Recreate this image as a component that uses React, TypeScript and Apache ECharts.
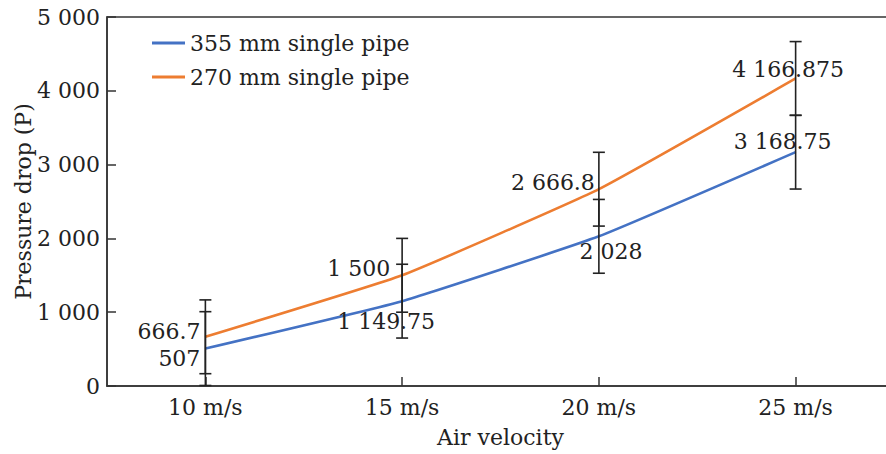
import React, { useEffect, useRef } from "react";
import * as echarts from "echarts";

const categories = ["10 m/s", "15 m/s", "20 m/s", "25 m/s"];
const pipe355 = [507, 1149.75, 2028, 3168.75];
const pipe270 = [666.7, 1500, 2666.8, 4166.875];
const errors355 = [500, 500, 500, 500];
const errors270 = [500, 500, 500, 500];
const seriesNames = ["355 mm single pipe", "270 mm single pipe"];

// label placement (alignment and pixel offsets from each point)
const labels355 = [
  { align: "right", offset: [-5, 9.5] },
  { align: "center", offset: [-16, 20.6] },
  { align: "center", offset: [12, 15.4] },
  { align: "center", offset: [-13, -10.5] },
];
const labels270 = [
  { align: "right", offset: [-5, -5] },
  { align: "right", offset: [-12, -7] },
  { align: "right", offset: [-4, -7] },
  { align: "center", offset: [-7.5, -8.5] },
];

const FONT = "DejaVu Serif";
const FS = 22;
const TXT = "#222";
const BLUE = "#4472C4";
const ORANGE = "#ED7D31";

function fmt(v: number): string {
  const s = String(v);
  const parts = s.split(".");
  const g = parts[0].replace(/\B(?=(\d{3})+(?!\d))/g, " ");
  return parts[1] ? g + "." + parts[1] : g;
}

function lineData(values: number[], lab: any[]) {
  return values.map((v, i) => ({
    value: v,
    label: {
      show: true,
      position: "inside",
      align: lab[i].align,
      verticalAlign: "middle",
      offset: lab[i].offset,
      formatter: () => fmt(v),
      color: TXT,
      fontFamily: FONT,
      fontSize: FS,
    },
  }));
}

function errData(values: number[], errs: number[]) {
  return values.map((v, i) => [i, v - errs[i], v + errs[i]]);
}

const renderErr = (params: any, api: any) => {
  const x = api.value(0);
  const lo = api.coord([x, api.value(1)]);
  const hi = api.coord([x, api.value(2)]);
  const w = 6;
  const style = { stroke: "#222", lineWidth: 1.6 };
  return {
    type: "group",
    children: [
      { type: "line", shape: { x1: lo[0], y1: lo[1], x2: hi[0], y2: hi[1] }, style },
      { type: "line", shape: { x1: lo[0] - w, y1: lo[1], x2: lo[0] + w, y2: lo[1] }, style },
      { type: "line", shape: { x1: hi[0] - w, y1: hi[1], x2: hi[0] + w, y2: hi[1] }, style },
    ],
  };
};

export default function App() {
  const ref = useRef<HTMLDivElement>(null);
  useEffect(() => {
    if (!ref.current) return;
    const chart = echarts.init(ref.current, null, { renderer: "svg" });
    const axisLine = { show: true, lineStyle: { color: "#333", width: 1.5 } };
    chart.setOption({
      animation: false,
      backgroundColor: "#fff",
      textStyle: { fontFamily: FONT, color: TXT },
      grid: {
        left: 107,
        top: 17,
        right: -8,
        bottom: 68,
        outerBoundsMode: "none",
        containLabel: false,
        show: true,
        borderColor: "#333",
        borderWidth: 1.5,
        backgroundColor: "transparent",
      },
      legend: {
        orient: "vertical",
        left: 147,
        top: 25,
        itemWidth: 33,
        itemHeight: 3,
        itemGap: 8,
        icon: "rect",
        data: seriesNames,
        textStyle: { fontFamily: FONT, fontSize: FS, color: TXT, lineHeight: 26, padding: [0, 0, 0, 0] },
      },
      xAxis: {
        type: "category",
        data: categories,
        boundaryGap: true,
        axisLine,
        axisTick: { show: true, alignWithLabel: true, inside: true, length: 9, lineStyle: { color: "#333", width: 1.5 } },
        axisLabel: { fontFamily: FONT, fontSize: FS, color: TXT, margin: 10 },
        name: "Air velocity",
        nameLocation: "middle",
        nameGap: 40,
        nameMoveOverlap: false,
        nameTextStyle: { fontFamily: FONT, fontSize: FS, color: TXT },
        splitLine: { show: false },
      },
      yAxis: {
        type: "value",
        min: 0,
        max: 5000,
        interval: 1000,
        axisLine,
        axisTick: { show: true, inside: true, length: 9, lineStyle: { color: "#333", width: 1.5 } },
        axisLabel: { fontFamily: FONT, fontSize: FS, color: TXT, margin: 7, formatter: (v: number) => fmt(v) },
        splitLine: { show: false },
        name: "Pressure drop (P)",
        nameLocation: "middle",
        nameGap: 73,
        nameMoveOverlap: false,
        nameTextStyle: { fontFamily: FONT, fontSize: FS, color: TXT },
      },
      series: [
        {
          name: seriesNames[0],
          type: "line",
          data: lineData(pipe355, labels355),
          smooth: 0.12,
          symbol: "circle",
          symbolSize: 1,
          color: BLUE,
          lineStyle: { width: 2.6, color: BLUE },
          z: 2,
        },
        {
          name: seriesNames[1],
          type: "line",
          data: lineData(pipe270, labels270),
          smooth: 0.12,
          symbol: "circle",
          symbolSize: 1,
          color: ORANGE,
          lineStyle: { width: 2.6, color: ORANGE },
          z: 2,
        },
        {
          type: "custom",
          data: errData(pipe355, errors355),
          renderItem: renderErr,
          encode: { x: 0, y: [1, 2] },
          z: 10,
          silent: true,
        },
        {
          type: "custom",
          data: errData(pipe270, errors270),
          renderItem: renderErr,
          encode: { x: 0, y: [1, 2] },
          z: 10,
          silent: true,
        },
      ],
    });
    return () => chart.dispose();
  }, []);
  return <div ref={ref} style={{ position: "fixed", left: 0, top: 0, width: 886, height: 454 }} />;
}
